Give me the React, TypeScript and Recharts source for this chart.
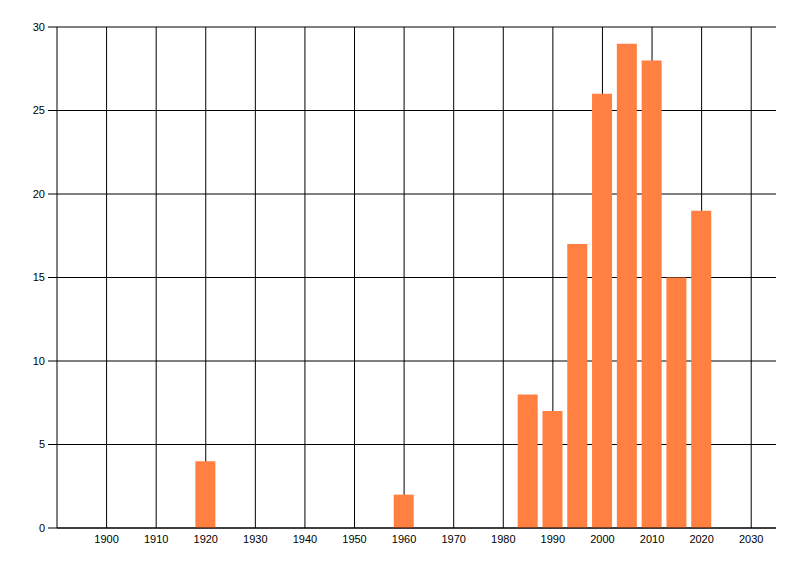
import React from "react";
import { BarChart, Bar, XAxis, YAxis, CartesianGrid } from "recharts";

const years = [1920, 1960, 1985, 1990, 1995, 2000, 2005, 2010, 2015, 2020];
const counts = [4, 2, 8, 7, 17, 26, 29, 28, 15, 19];
const xTicks = [1900, 1910, 1920, 1930, 1940, 1950, 1960, 1970, 1980, 1990, 2000, 2010, 2020, 2030];
const yTicks = [0, 5, 10, 15, 20, 25, 30];
const xDomain = [1890, 2035];

const data = years.map((y, i) => ({ year: y, count: counts[i] }));

const tickStyle = { fill: "#000", fontSize: 11, fontFamily: "'Liberation Sans', Arial, sans-serif" };

const verticalGen = (props: any) => {
  const { offset, xAxis } = props;
  const sc = xAxis && xAxis.scale;
  if (sc && typeof sc === "function") {
    return xTicks.map((t) => sc(t));
  }
  if (sc && typeof sc.map === "function") {
    return xTicks.map((t) => sc.map(t));
  }
  return xTicks.map((t) => offset.left + ((t - xDomain[0]) / (xDomain[1] - xDomain[0])) * offset.width);
};

export default function App() {
  return (
    <div style={{ position: "absolute", left: 0, top: 0, width: 800, height: 576, background: "#fff" }}>
      <BarChart
        width={800}
        height={576}
        data={data}
        margin={{ top: 27, right: 24, bottom: 18, left: 0 }}
        barGap={0}
      >
        <CartesianGrid
          stroke="#000"
          strokeWidth={1}
          vertical
          horizontal
          verticalCoordinatesGenerator={verticalGen}
        />
        <XAxis
          dataKey="year"
          type="number"
          domain={xDomain}
          ticks={xTicks}
          allowDataOverflow
          height={30}
          tickLine={false}
          tickSize={0}
          tickMargin={7}
          axisLine={{ stroke: "#000", strokeWidth: 1 }}
          tick={tickStyle}
          interval={0}
        />
        <YAxis
          type="number"
          domain={[0, 30]}
          ticks={yTicks}
          width={57}
          tickSize={9}
          tickMargin={3}
          tickLine={{ stroke: "#000", strokeWidth: 1 }}
          axisLine={{ stroke: "#000", strokeWidth: 1 }}
          tick={tickStyle}
          interval={0}
        />
        <Bar dataKey="count" fill="#FF8040" barSize={20} isAnimationActive={false} />
      </BarChart>
    </div>
  );
}
